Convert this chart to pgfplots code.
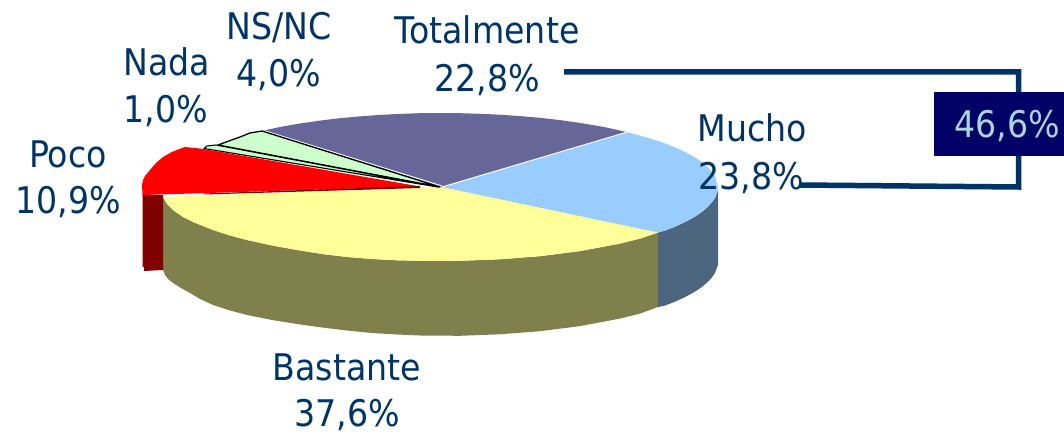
\documentclass[border=0pt]{standalone}
\usepackage{pgfplots}
\pgfplotsset{compat=1.18}
\usepackage{fontspec}
\setmainfont[FakeStretch=0.905]{DejaVu Sans}
\definecolor{txt}{HTML}{003366}
\definecolor{boxc}{HTML}{000066}
\definecolor{boxt}{HTML}{A8D6DE}
\definecolor{cpurple}{HTML}{666699}
\definecolor{cblue}{HTML}{99CCFF}
\definecolor{cyellow}{HTML}{FFFF99}
\definecolor{cgreen}{HTML}{CCFFCC}
\definecolor{sblue}{HTML}{4D6680}
\definecolor{solive}{HTML}{80804D}
\definecolor{sred}{HTML}{800000}
\tikzset{lbl/.style={anchor=base, text=txt, inner sep=0pt, font=\fontsize{36.7}{44}\selectfont}}
\begin{document}
\begin{tikzpicture}
\begin{axis}[
  scale only axis, width=1064pt, height=435pt,
  xmin=0, xmax=1064, ymin=0, ymax=435, y dir=reverse,
  hide axis, clip=false,
  every axis plot/.append style={line join=round},
]
\path (axis cs:0,0) rectangle (axis cs:1064,435);
% side walls
\addplot[fill=solive, draw=none] coordinates {
 (163,197)(167,204)(173,210)(183,217)(193,222)(213,230)(230,235.5)(247,240)(272,245.5)(297,250)(322,254)(347,257)(372,259)(397,260.3)(420,260.8)(460,260.8)(500,259.3)(540,256.2)(580,251.1)(620,243.6)(640,238.6)(658,232.5)
 (658,307)(640,313.6)(620,318.6)(580,326.1)(540,331.2)(500,334.3)(460,335.8)(420,335.5)(397,334.5)(372,333)(347,330.5)(322,327.5)(297,324)(272,320)(247,315)(230,310.5)(213,305)(200,299)(190,293)(181,288)(173,283)(168,279)(165,275)(163,270)} -- cycle;
\addplot[fill=sblue, draw=none] coordinates {
 (658,232.5)(665,230.6)(675,226.7)(686,221.6)(695,216.6)(702,211.9)(708,206.7)(712,202.3)(715,197.9)(718,190)(718,265)(715,272.9)(712,277.3)(708,281.7)(702,286.9)(695,291.6)(686,296.6)(675,301.7)(665,305.6)(658,307)} -- cycle;
\addplot[fill=sred, draw=none] coordinates {(142.5,195)(163,195)(163,270)(144,271)(144,267)(142.5,267)} -- cycle;
% top faces
\addplot[fill=cyellow, draw=none] coordinates {
 (442,187)(163,197)(167,204)(173,210)(183,217)(193,222)(213,230)(230,235.5)(247,240)(272,245.5)(297,250)(322,254)(347,257)(372,259)(397,260.3)(420,260.8)(460,260.8)(500,259.3)(540,256.2)(580,251.1)(620,243.6)(640,238.6)(658,232.5)} -- cycle;
\addplot[fill=cblue, draw=none] coordinates {
 (442,187)(627,132.1)(650,138.4)(665,143.4)(675,147.3)(686,152.4)(695,157.4)(702,162.1)(708,167.3)(712,171.7)(715,176.1)(718,187)(718,190)(715,197.9)(712,202.3)(708,206.7)(702,211.9)(695,216.6)(686,221.6)(675,226.7)(665,230.6)(658,232.5)} -- cycle;
\addplot[fill=cpurple, draw=none] coordinates {
 (442,187)(262,130.9)(280,127)(300,123.5)(320,120.6)(340,118.2)(360,116.4)(380,114.9)(400,113.9)(420,113.2)(440,113)(460,113.2)(480,113.8)(500,114.7)(520,116.1)(540,117.8)(560,120.1)(580,122.9)(604,127)(627,132.1)} -- cycle;
\addplot[white, line width=1pt] coordinates {(442,187)(627,132.1)};
\addplot[white, line width=1pt] coordinates {(442,186)(262,130)};
% small slices
\addplot[fill=cgreen, draw=black, line width=1.3pt] coordinates {
 (440,187)(218,145)(226,142)(240,137)(250,133)(262,131)} -- cycle;
\addplot[fill=cgreen, draw=black, line width=1.1pt] coordinates {
 (438,187)(204,148.5)(207,146)(216,145)} -- cycle;
% red slice
\addplot[fill=red, draw=none] coordinates {
 (420,186.5)(204,149)(185,147)(178,149.5)(172,152)(163,157)(156,163)(150,170)(145,176)(143,180)(142,185)(142.5,195)} -- cycle;
\addplot[fill=sred, draw=none] coordinates {(420,186)(420,188)(205,194.5)(203,193.5)} -- cycle;
% bracket
\addplot[txt, line width=5.5pt, line join=miter] coordinates {(564,72)(1018.5,72)(1018.5,187)(800,185)};
\addplot[fill=boxc, draw=none] coordinates {(934,92)(1064,92)(1064,156)(934,156)} -- cycle;
% labels
\node[lbl] at (axis cs:487,44) {Totalmente};
\node[lbl] at (axis cs:487,92) {22,8\%};
\node[lbl] at (axis cs:279,40) {NS/NC};
\node[lbl] at (axis cs:279,87) {4,0\%};
\node[lbl] at (axis cs:167,76) {Nada};
\node[lbl] at (axis cs:166,123) {1,0\%};
\node[lbl] at (axis cs:68,168) {Poco};
\node[lbl] at (axis cs:68,214) {10,9\%};
\node[lbl] at (axis cs:752,142) {Mucho};
\node[lbl] at (axis cs:751,190) {23,8\%};
\node[lbl] at (axis cs:347,380) {Bastante};
\node[lbl] at (axis cs:347,426) {37,6\%};
\node[lbl, text=boxt] at (axis cs:1007,138) {46,6\%};
\end{axis}
\end{tikzpicture}
\end{document}
